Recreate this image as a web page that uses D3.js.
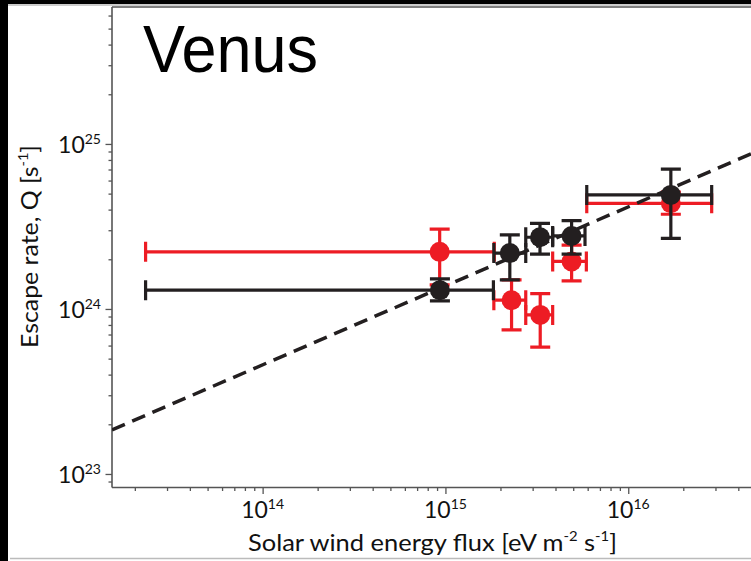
<!DOCTYPE html>
<html>
<head>
<meta charset="utf-8">
<script src="https://cdn.jsdelivr.net/npm/d3@7"></script>
<style>
  html, body { margin: 0; padding: 0; background: #fff; }
  svg { display: block; }
  text { font-family: "Lato", "Noto Sans", sans-serif; fill: #111; }
</style>
</head>
<body>
<svg id="chart" width="751" height="561"></svg>
<script>
// ---------------- data ----------------
const titleText = "Venus";
const xTitle = ["Solar wind energy flux [eV m", "-2", " s", "-1", "]"];
const yTitle = ["Escape rate, Q [s", "-1", "]"];

const xMajorTicks = [1e14, 1e15, 1e16];
const xTickExp = ["14", "15", "16"];
const yMajorTicks = [1e23, 1e24, 1e25];
const yTickExp = ["23", "24", "25"];

// red series
const fluxRed   = [9.3e14, 2.3e15, 3.3e15, 4.9e15, 1.71e16];
const qRed      = [2.22e24, 1.13e24, 9.2e23, 1.94e24, 4.37e24];
const fluxRedLo = [2.29e13, 1.84e15, 2.75e15, 3.86e15, 5.93e15];
const fluxRedHi = [1.85e15, 2.75e15, 3.86e15, 5.9e15, 2.86e16];
const qRedLo    = [1.4e24, 7.47e23, 5.87e23, 1.48e24, 3.75e24];
const qRedHi    = [3.05e24, 1.5e24, 1.24e24, 2.44e24, 5.1e24];

// black series
const fluxBlack   = [9.33e14, 2.25e15, 3.29e15, 4.9e15, 1.71e16];
const qBlack      = [1.3e24, 2.18e24, 2.72e24, 2.77e24, 4.91e24];
const fluxBlackLo = [2.29e13, 1.84e15, 2.75e15, 3.86e15, 5.93e15];
const fluxBlackHi = [1.83e15, 2.75e15, 3.86e15, 5.8e15, 2.86e16];
const qBlackLo    = [1.12e24, 1.5e24, 2.15e24, 2.15e24, 2.68e24];
const qBlackHi    = [1.52e24, 2.81e24, 3.3e24, 3.43e24, 7.03e24];

// dashed power-law fit (end points)
const fitFlux = [1.5e13, 8.7e16];
const fitQ    = [1.85e23, 1.17e25];

// ---------------- layout ----------------
const W = 751, H = 561;
const plotL = 112, plotR = 800, plotT = 7, plotB = 487.5;
const RED = "#ed1c24", BLACK = "#231f20", AXIS = "#555";

const svg = d3.select("#chart");
svg.append("rect").attr("width", W).attr("height", H).attr("fill", "#fff");

const x = d3.scaleLog().domain([1.5e13, 8.7e16]).range([plotL, plotR]);
const y = d3.scaleLog().domain([8.28e22, 6.76e25]).range([plotB, plotT]);

// frame decorations (screenshot border)
svg.append("rect").attr("x", 0).attr("y", 0).attr("width", 8).attr("height", H).attr("fill", "#000");
svg.append("rect").attr("x", 0).attr("y", 0).attr("width", W).attr("height", 4).attr("fill", "#000");
svg.append("line").attr("x1", 8).attr("x2", W).attr("y1", 5).attr("y2", 5)
  .attr("stroke", "#999").attr("stroke-width", 1);
svg.append("line").attr("x1", 10).attr("x2", W).attr("y1", 558.5).attr("y2", 558.5)
  .attr("stroke", "#bbb").attr("stroke-width", 1.5);

// clip
svg.append("clipPath").attr("id", "clip").append("rect")
  .attr("x", plotL).attr("y", plotT).attr("width", plotR - plotL).attr("height", plotB - plotT);

// ---------------- axes ----------------
const isMajor = v => Math.abs(Math.log10(v) - Math.round(Math.log10(v))) < 1e-9;
const xMinor = x.ticks(40).filter(v => !isMajor(v));
const yMinor = y.ticks(40).filter(v => !isMajor(v));

function styleAxis(g) {
  g.select(".domain").remove();
  g.selectAll(".tick line").attr("stroke", AXIS).attr("stroke-width", 1.3);
}
const gx = svg.append("g").attr("transform", `translate(0,${plotB})`);
gx.append("g").call(d3.axisBottom(x).tickValues(xMinor).tickSize(3.5).tickFormat("")).call(styleAxis);
gx.append("g").call(d3.axisBottom(x).tickValues(xMajorTicks).tickSize(6.5).tickFormat("")).call(styleAxis);

const gy = svg.append("g").attr("transform", `translate(${plotL},0)`);
gy.append("g").call(d3.axisLeft(y).tickValues(yMinor).tickSize(3.5).tickFormat("")).call(styleAxis);
gy.append("g").call(d3.axisLeft(y).tickValues(yMajorTicks).tickSize(6.5).tickFormat("")).call(styleAxis);

// axis lines and top frame line
svg.append("line").attr("x1", plotL).attr("x2", plotL).attr("y1", plotT).attr("y2", plotB)
  .attr("stroke", AXIS).attr("stroke-width", 1.6);
svg.append("line").attr("x1", plotL).attr("x2", W).attr("y1", plotB).attr("y2", plotB)
  .attr("stroke", AXIS).attr("stroke-width", 1.6);
svg.append("line").attr("x1", plotL).attr("x2", W).attr("y1", plotT).attr("y2", plotT)
  .attr("stroke", AXIS).attr("stroke-width", 1.3);

// tick labels with superscripts
xMajorTicks.forEach((v, i) => {
  const t = svg.append("text").attr("x", x(v)).attr("y", 518).attr("text-anchor", "middle")
    .attr("font-size", 23);
  t.append("tspan").text("10");
  t.append("tspan").attr("font-size", 14).attr("dy", -9).text(xTickExp[i]);
});
yMajorTicks.forEach((v, i) => {
  const t = svg.append("text").attr("x", 101).attr("y", y(v) + 9).attr("text-anchor", "end")
    .attr("font-size", 23);
  t.append("tspan").text("10");
  t.append("tspan").attr("font-size", 14).attr("dy", -9).text(yTickExp[i]);
});

// axis titles
{
  const t = svg.append("text").attr("x", 248).attr("y", 551)
    .attr("font-size", 24).attr("textLength", 369).attr("lengthAdjust", "spacingAndGlyphs");
  t.append("tspan").text(xTitle[0]);
  t.append("tspan").attr("font-size", 14).attr("dy", -10).text(xTitle[1]);
  t.append("tspan").attr("dy", 10).text(xTitle[2]);
  t.append("tspan").attr("font-size", 14).attr("dy", -10).text(xTitle[3]);
  t.append("tspan").attr("dy", 10).text(xTitle[4]);
}
{
  const t = svg.append("text").attr("transform", "translate(38,348) rotate(-90)")
    .attr("font-size", 24).attr("textLength", 203).attr("lengthAdjust", "spacingAndGlyphs");
  t.append("tspan").text(yTitle[0]);
  t.append("tspan").attr("font-size", 14).attr("dy", -10).text(yTitle[1]);
  t.append("tspan").attr("dy", 10).text(yTitle[2]);
}

// title
svg.append("text").attr("x", 143).attr("y", 72).attr("font-size", 66)
  .attr("textLength", 175).attr("lengthAdjust", "spacingAndGlyphs")
  .style("font-family", "'Liberation Sans', Arial, sans-serif").style("fill", "#000")
  .text(titleText);

// ---------------- marks ----------------
const plot = svg.append("g").attr("clip-path", "url(#clip)");
const CAP = 10, SW = 3.2, R = 10;

function drawSeries(color, fx, fq, fxLo, fxHi, fqLo, fqHi) {
  const g = plot.append("g").attr("stroke", color).attr("stroke-width", SW).attr("fill", "none");
  const idx = d3.range(fx.length);
  // horizontal error bars
  g.selectAll(".hx").data(idx).join("line")
    .attr("x1", i => x(fxLo[i])).attr("x2", i => x(fxHi[i]))
    .attr("y1", i => y(fq[i])).attr("y2", i => y(fq[i]));
  g.selectAll(".hcl").data(idx).join("line")
    .attr("x1", i => x(fxLo[i])).attr("x2", i => x(fxLo[i]))
    .attr("y1", i => y(fq[i]) - CAP).attr("y2", i => y(fq[i]) + CAP);
  g.selectAll(".hch").data(idx).join("line")
    .attr("x1", i => x(fxHi[i])).attr("x2", i => x(fxHi[i]))
    .attr("y1", i => y(fq[i]) - CAP).attr("y2", i => y(fq[i]) + CAP);
  // vertical error bars
  g.selectAll(".vy").data(idx).join("line")
    .attr("x1", i => x(fx[i])).attr("x2", i => x(fx[i]))
    .attr("y1", i => y(fqLo[i])).attr("y2", i => y(fqHi[i]));
  g.selectAll(".vcl").data(idx).join("line")
    .attr("x1", i => x(fx[i]) - CAP).attr("x2", i => x(fx[i]) + CAP)
    .attr("y1", i => y(fqLo[i])).attr("y2", i => y(fqLo[i]));
  g.selectAll(".vch").data(idx).join("line")
    .attr("x1", i => x(fx[i]) - CAP).attr("x2", i => x(fx[i]) + CAP)
    .attr("y1", i => y(fqHi[i])).attr("y2", i => y(fqHi[i]));
  plot.append("g").selectAll("circle").data(idx).join("circle")
    .attr("cx", i => x(fx[i])).attr("cy", i => y(fq[i])).attr("r", R).attr("fill", color);
}

drawSeries(RED, fluxRed, qRed, fluxRedLo, fluxRedHi, qRedLo, qRedHi);

plot.append("path")
  .datum(d3.range(fitFlux.length))
  .attr("d", d3.line().x(i => x(fitFlux[i])).y(i => y(fitQ[i])))
  .attr("stroke", BLACK).attr("stroke-width", 3.5).attr("fill", "none")
  .attr("stroke-dasharray", "14,8");

drawSeries(BLACK, fluxBlack, qBlack, fluxBlackLo, fluxBlackHi, qBlackLo, qBlackHi);
</script>
</body>
</html>
